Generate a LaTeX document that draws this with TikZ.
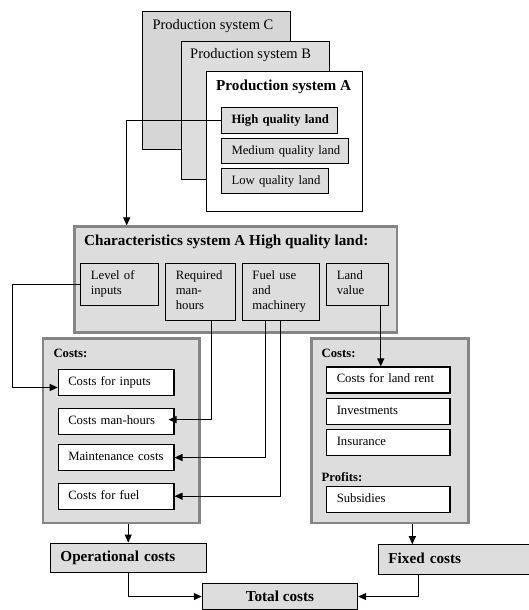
\documentclass[tikz,border=0pt]{standalone}
\usepackage{fontspec}
\setmainfont{Liberation Serif}
\usetikzlibrary{arrows.meta,calc}
\definecolor{boxfill}{HTML}{DDDDDD}
\definecolor{cfill}{HTML}{D6D6D6}
\definecolor{edgegray}{HTML}{858585}
\newcommand\fsmall{\fontsize{12.7}{15}\selectfont}
\newcommand\fbig{\fontsize{15.2}{18}\selectfont}
\newcommand\fmid{\fontsize{14.5}{17}\selectfont}
\newcommand\bx[7]{%
  \pgfmathsetmacro\bxw{#5-#3}\pgfmathsetmacro\bxh{#6-#4}\pgfmathsetmacro\bxt{#5-#3-20}%
  \node[#2, anchor=north west, minimum width=\bxw pt, minimum height=\bxh pt, text width=\bxt pt] (#1) at (#3,#4)
   {\makebox[0pt][l]{\begin{tabular}{@{}l@{}}#7\end{tabular}}};}
\begin{document}
\begin{tikzpicture}[x=1pt,y=-1pt,
  inbox/.style={draw=black, line width=1.1pt, inner xsep=10pt, inner ysep=0pt, align=left, font=\fsmall},
  whitebox/.style={inbox, fill=white},
  graybox/.style={inbox, fill=boxfill},
  outerbox/.style={draw=edgegray, line width=2.6pt, fill=boxfill, inner sep=0pt},
  sysbox/.style={draw=black, line width=1.1pt, inner sep=0pt},
  bigbox/.style={draw=black, line width=1.1pt, fill=boxfill, inner xsep=10pt, inner ysep=0pt, align=left, font=\fbig\bfseries},
  lbl/.style={inner sep=0pt, anchor=west},
  arr/.style={draw=black, line width=1.1pt, -{Triangle[length=8pt,width=7pt]}}]
\useasboundingbox (0,0) rectangle (529,610);
% production systems
\bx{sysC}{sysbox, fill=cfill}{142}{10.7}{290.3}{149.3}{}
\node[lbl, font=\fmid] (tC) at (152.3,26) {Production system C};
\bx{sysB}{sysbox, fill=boxfill}{180.7}{40.7}{329}{179.3}{}
\node[lbl, font=\fmid] (tB) at (190,55) {Production system B};
\bx{sysA}{sysbox, fill=white}{205.7}{70.7}{362.3}{210.9}{}
\node[lbl, font=\fbig\bfseries] (tA) at (216,87) {Production system A};
\bx{high}{graybox}{221}{106.7}{336.7}{132.7}{\bfseries High quality land}
\bx{medium}{graybox}{221}{137.7}{348.3}{163.3}{Medium quality land}
\bx{low}{graybox}{221}{167.7}{328.3}{193.3}{Low quality land}
% characteristics
\bx{charbox}{outerbox}{72.9}{225.4}{395.7}{331}{}
\node[lbl, font=\fbig\bfseries] (tchar) at (84,242) {Characteristics system A High quality land:};
\bx{lvl}{graybox}{80.3}{262.5}{157.9}{304.7}{Level of\\inputs}
\bx{req}{graybox}{165.3}{262.5}{234.5}{319.9}{Required\\man-\\hours}
\bx{fuel}{graybox}{241.9}{262.5}{318.8}{319.9}{Fuel use\\and\\machinery}
\bx{land}{graybox}{326.2}{262.5}{388}{304.7}{Land\\value}
% left costs
\bx{lcost}{outerbox}{41.5}{337.4}{198.4}{521.6}{}
\node[lbl, font=\fsmall\bfseries] (tlc) at (53.3,353) {Costs:};
\bx{cin}{whitebox}{57.7}{368.8}{173.4}{395.1}{Costs for inputs}
\bx{cmh}{whitebox}{57.7}{407.9}{173.4}{434.3}{Costs man-hours}
\bx{cmaint}{whitebox}{57.7}{444}{173.4}{470}{Maintenance costs}
\bx{cfuel}{whitebox}{57.7}{482.5}{173.4}{508.8}{Costs for fuel}
% right costs
\bx{rcost}{outerbox}{310.4}{337.4}{467.3}{521.6}{}
\node[lbl, font=\fsmall\bfseries] (trc) at (321.5,353) {Costs:};
\bx{crent}{whitebox}{326.2}{366.4}{449.4}{392.4}{Costs for land rent}
\bx{cinv}{whitebox}{326.2}{397.5}{449.4}{423.5}{Investments}
\bx{cins}{whitebox}{326.2}{428.5}{449.4}{454.8}{Insurance}
\node[lbl, font=\fsmall\bfseries] (tprof) at (321.5,476.8) {Profits:};
\bx{csub}{whitebox}{326.2}{485.5}{449.4}{511.5}{Subsidies}
% totals
\bx{opc}{bigbox}{49.9}{542.5}{205.5}{571.9}{Operational costs}
\bx{fixc}{bigbox}{377.9}{544.2}{545}{573.6}{Fixed costs}
\node[bigbox, align=center, anchor=north west, minimum width=155.2pt, minimum height=26pt] (total) at (201.8,583) {Total costs};
% connectors
\draw[arr] (high.west) -| ([xshift=53.8pt]charbox.north west);
\draw[arr] (lvl.west) -- ++(-68.2,0) |- ([yshift=-5pt]cin.west);
\draw[arr] ([xshift=11.3pt]req.south) |- ([xshift=-6pt,yshift=2pt]cmh.east);
\draw[arr] ([xshift=-15.5pt]fuel.south) |- (cmaint.east);
\draw[arr] (fuel.south) |- (cfuel.east);
\coordinate (lx) at ([xshift=23.1pt]land.south);
\draw[arr] (lx) -- (lx |- crent.north);
\draw[arr] (lcost.south -| opc.north) -- (opc.north);
\coordinate (rx) at ([xshift=22.2pt]rcost.south);
\draw[arr] (rx) -- (rx |- fixc.north);
\draw[arr] (opc.south) |- (total.west);
\draw[arr] ([xshift=40.5pt]fixc.south west) |- (total.east);
\end{tikzpicture}
\end{document}
